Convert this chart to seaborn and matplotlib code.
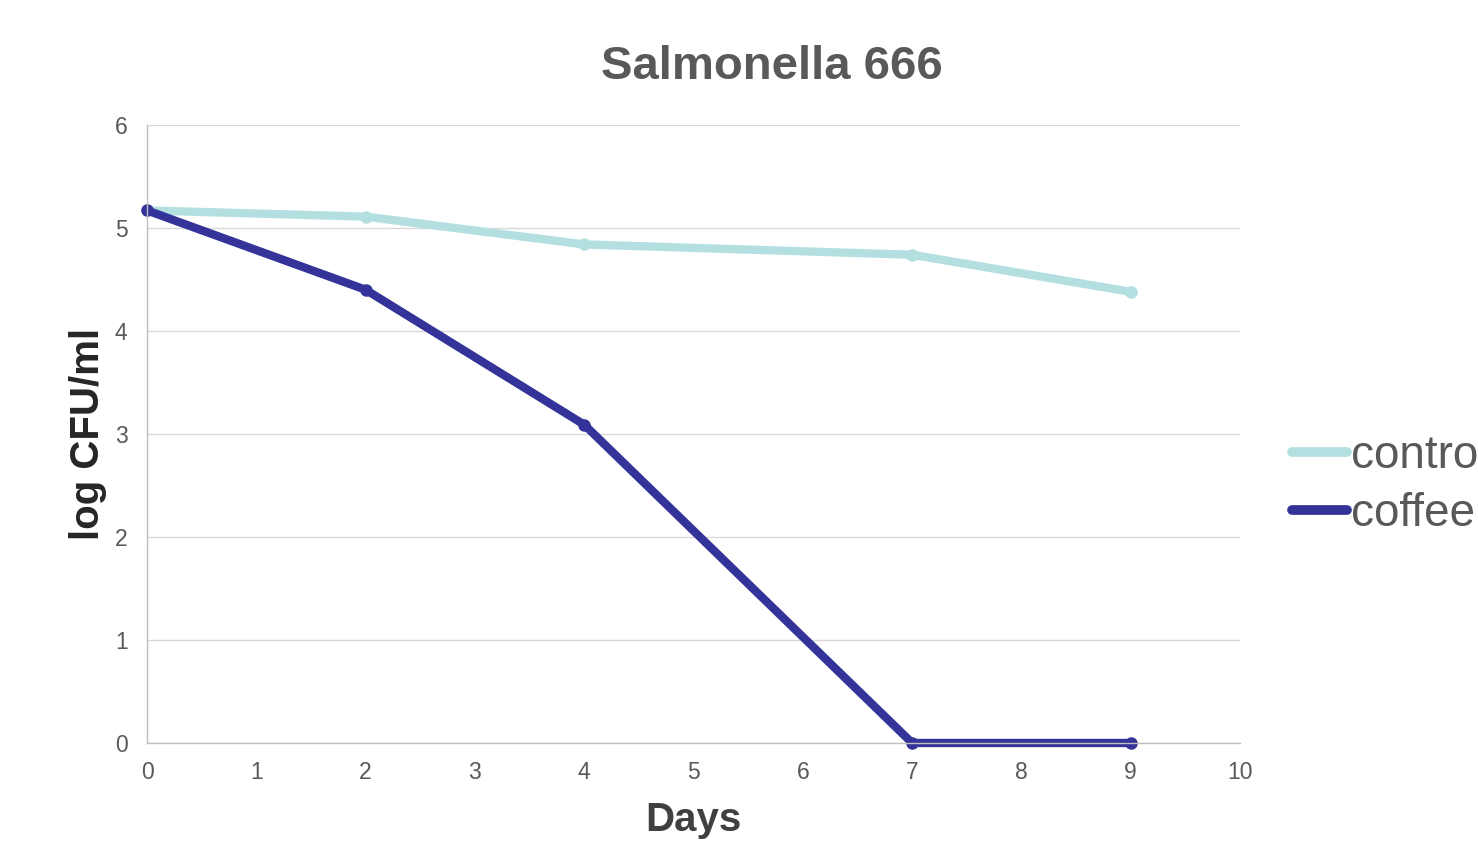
import matplotlib
matplotlib.use("Agg")
import matplotlib.pyplot as plt
import seaborn as sns
import pandas as pd

days = [0, 2, 4, 7, 9]
control = [5.17, 5.11, 4.84, 4.74, 4.38]
coffee = [5.17, 4.40, 3.09, 0.0, 0.0]
series_names = ["control", "coffee"]
palette = {"control": "#B4DFE1", "coffee": "#333399"}

df = pd.DataFrame({
    "Days": days * 2,
    "log CFU/ml": control + coffee,
    "series": [series_names[0]] * len(days) + [series_names[1]] * len(days),
})

sns.set_theme(style="white")
plt.rcParams["font.family"] = ["Liberation Sans", "DejaVu Sans"]
text_gray = "#595959"

fig = plt.figure(figsize=(14.78, 8.42), dpi=100)
ax = fig.add_axes([0.0995, 0.1176, 0.7395, 0.734])

sns.lineplot(data=df, x="Days", y="log CFU/ml", hue="series", palette=palette,
             hue_order=series_names, linewidth=6, marker="o", markersize=9,
             markeredgewidth=0, ax=ax, legend=False, sort=False)
for line in ax.get_lines():
    line.set_clip_on(False)
    line.set_solid_capstyle("round")
    line.set_solid_joinstyle("round")

ax.set_xlim(0, 10)
ax.set_ylim(0, 6)
ax.set_xticks(range(0, 11))
ax.set_yticks(range(0, 7))
ax.grid(axis="y", color="#D9D9D9", linewidth=1)
ax.grid(axis="x", visible=False)
for side in ["top", "right"]:
    ax.spines[side].set_visible(False)
for side in ["left", "bottom"]:
    ax.spines[side].set_color("#BFBFBF")
    ax.spines[side].set_linewidth(1)
ax.tick_params(axis="x", labelsize=16.5, colors=text_gray, length=0, pad=13)
ax.tick_params(axis="y", labelsize=16.5, colors=text_gray, length=0, pad=14)
ax.set_xlabel("Days", fontsize=29, fontweight="bold", color="#404040", labelpad=12)
ax.set_ylabel("log CFU/ml", fontsize=29, fontweight="bold", color="#262626", labelpad=6)
fig.text(0.5225, 0.92, "Salmonella 666", fontsize=34, fontweight="bold",
         color=text_gray, ha="center", va="center")

handles = [plt.Line2D([0], [0], color=palette[n], linewidth=7, marker="o",
                      markersize=6, markeredgewidth=0, solid_capstyle="round")
           for n in series_names]
fig.legend(handles, series_names, loc="center left",
           bbox_to_anchor=(0.874, 0.424), frameon=False, fontsize=33,
           handlelength=1.2, handletextpad=0.1, labelspacing=0.3,
           labelcolor=text_gray, borderaxespad=0, borderpad=0)

fig.savefig("out.png", dpi=100, facecolor="white")
